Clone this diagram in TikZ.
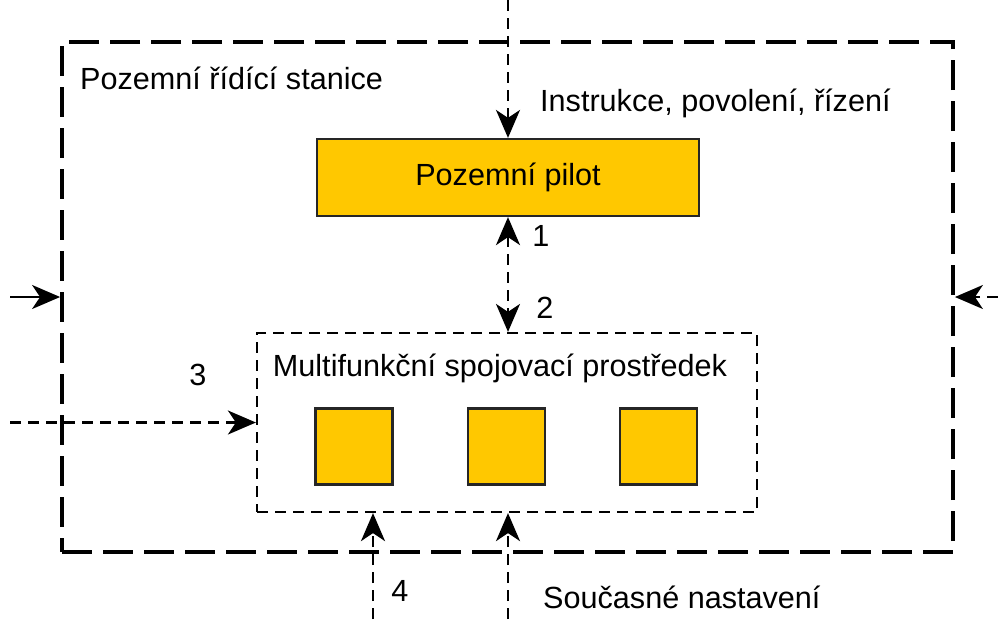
\documentclass[tikz,border=0pt]{standalone}
\usepackage{fontspec}
\setmainfont{Liberation Sans}
\usetikzlibrary{arrows.meta}
\definecolor{gold}{HTML}{FFC800}
\tikzset{
  thickdash/.style={line width=3.8pt, dash pattern=on 30pt off 11pt},
  thindash/.style={line width=2.2pt, dash pattern=on 11pt off 7pt},
  goldbox/.style={draw=black!85, line width=2.2pt, fill=gold},
  tip/.tip={Stealth[length=28pt, width=24pt, inset=8pt]},
  flow/.style={line width=2.2pt, -tip},
  label/.style={font=\fontsize{30.6}{34}\selectfont, inner sep=0pt},
}
\begin{document}
\begin{tikzpicture}[x=1pt, y=-1pt]
\useasboundingbox (0,0) rectangle (998,619);

% ground control station
\node[draw, thickdash, minimum width=891pt, minimum height=510pt] (station) at (507.5,297) {};
\node[label, anchor=west] (stationlbl) at (80,78) {Pozemní řídící stanice};

% ground pilot
\node[goldbox, minimum width=382pt, minimum height=77pt, label] (pilot) at (508,177.5) {Pozemní pilot};

% multifunction link unit with its three modules
\node[draw, thindash, minimum width=500pt, minimum height=179pt] (unit) at (507,422.5) {};
\node[label] (unitlbl) at (500,368) {Multifunkční spojovací prostředek};
\node[goldbox, minimum width=77pt, minimum height=76pt] (m1) at (354,446.5) {};
\node[goldbox, minimum width=77pt, minimum height=76pt] (m2) at (506.5,446.5) {};
\node[goldbox, minimum width=77pt, minimum height=76pt] (m3) at (658.5,446.5) {};

% free ends of the incoming connectors
\coordinate (instr) at (508,0);
\coordinate (leftin) at (10,297);
\coordinate (rightin) at (998,297);
\coordinate (linkin) at (10,422.5);
\coordinate (bot4) at (373,619);
\coordinate (botset) at (508,619);

% connectors
\draw[flow, thindash] (instr) -- (pilot.north);
\draw[flow, thindash, tip-tip] (pilot.south) -- (pilot.south |- unit.north);
\draw[flow] (leftin) -- (station.west);
\draw[flow, thindash] (rightin) -- (station.east);
\draw[flow, thindash] (linkin) -- (unit.west);
\draw[flow, thindash] (bot4) -- (bot4 |- unit.south);
\draw[flow, thindash] (botset) -- (botset |- unit.south);

% labels
\node[label, anchor=west] (instrlbl) at (540,103) {Instrukce, povolení, řízení};
\node[label] (n1) at (541,236) {1};
\node[label] (n2) at (545,308) {2};
\node[label] (n3) at (198,375) {3};
\node[label] (n4) at (400,591) {4};
\node[label, anchor=west] (setlbl) at (543,597) {Současné nastavení};
\end{tikzpicture}
\end{document}
